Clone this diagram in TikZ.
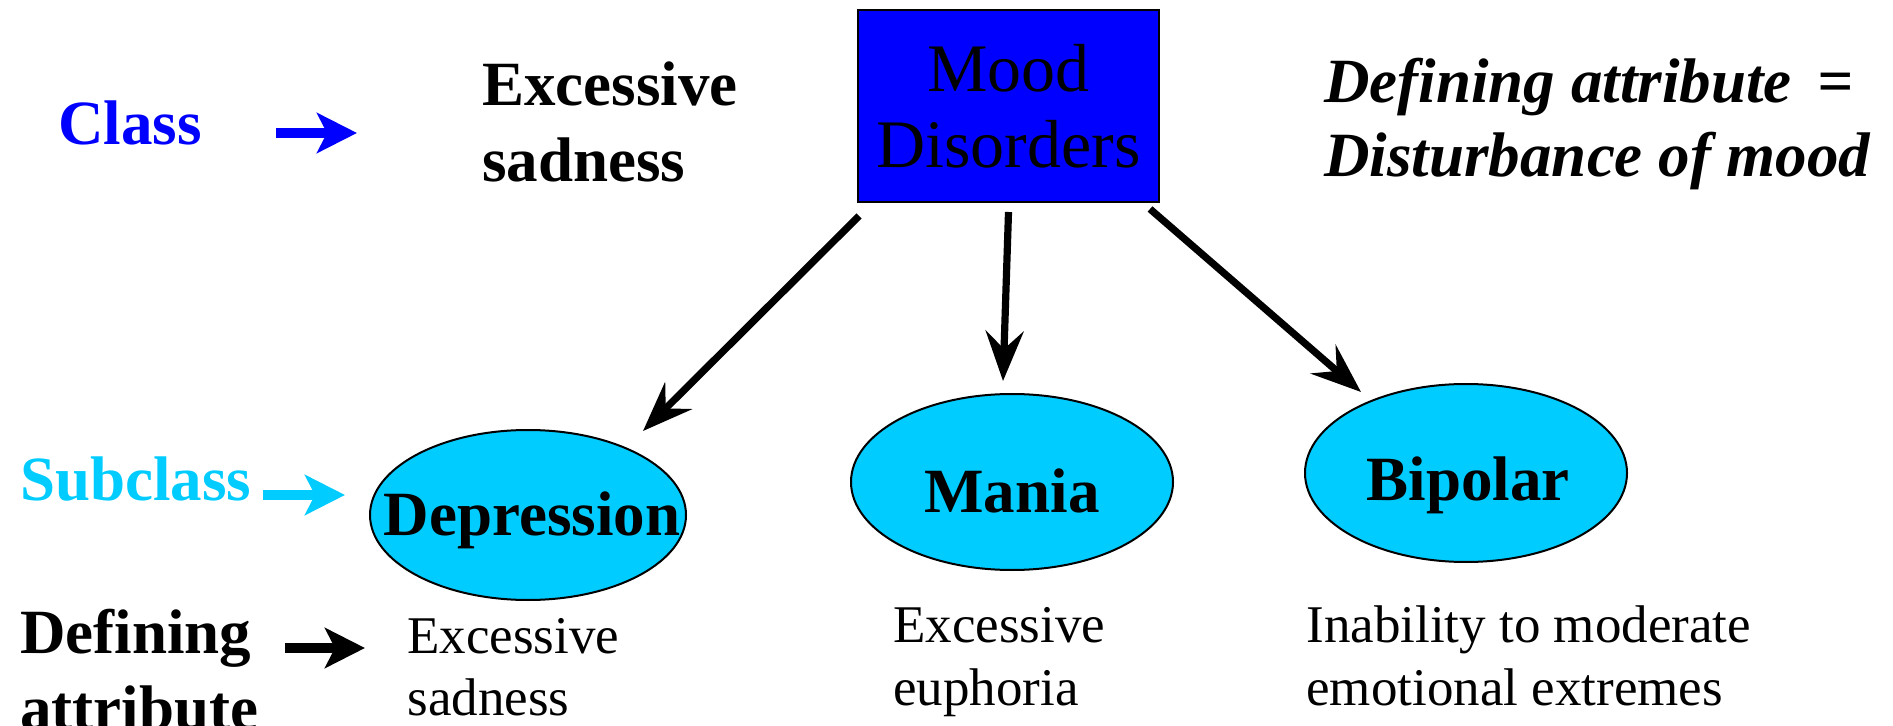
\documentclass[tikz,border=0pt]{standalone}
\usepackage{fontspec}
\setmainfont{Liberation Serif}
\usetikzlibrary{arrows.meta,shapes.geometric,calc}
\definecolor{boxblue}{RGB}{0,0,255}
\definecolor{subcyan}{RGB}{0,204,255}
\begin{document}
\begin{tikzpicture}[x=0.5pt,y=-0.5pt,
  conn/.style={line width=3.6pt,-{Stealth[length=25pt,width=19pt,inset=9pt]}},
  side/.style={line width=5pt,-{Stealth[length=20pt,width=20pt,inset=5pt]}},
  boldtxt/.style={inner sep=0pt,anchor=base west,font=\fontsize{31.5}{38}\selectfont\bfseries},
  boldc/.style={inner sep=0pt,anchor=base,font=\fontsize{31.5}{38}\selectfont\bfseries},
  itxt/.style={inner sep=0pt,anchor=base west,font=\fontsize{31.5}{38}\selectfont\bfseries\itshape},
  regtxt/.style={inner sep=0pt,anchor=base west,font=\fontsize{26.5}{31}\selectfont},
  ell/.style={ellipse,draw=black,line width=1pt,fill=subcyan,inner sep=0pt},
  moodbox/.style={rectangle,draw=black,line width=1pt,fill=boxblue,inner sep=0pt,
    minimum width=150.5pt,minimum height=96pt,align=center,
    font=\fontsize{34}{38}\selectfont}
]
\useasboundingbox (0,0) rectangle (1893,726);

% top row
\node[moodbox] (mood) at (1008.5,106) {Mood\\Disorders};
\node[boldtxt,text=boxblue] (cls) at (58,145) {Class};
\node[boldtxt] (ex1) at (482,106) {Excessive};
\node[boldtxt] (ex2) at (482,182) {sadness};
\node[itxt] (def1) at (1324,103) {Defining attribute \,=};
\node[itxt] (def2) at (1324,177) {Disturbance of mood};

% ellipses
\node[ell,minimum width=158pt,minimum height=85pt] (dep) at (528,515) {};
\node[ell,minimum width=161pt,minimum height=88pt] (man) at (1012,482) {};
\node[ell,minimum width=161pt,minimum height=89pt] (bip) at (1466,473) {};
\node[boldc] (deptxt) at (532,535) {Depression};
\node[boldc] (mantxt) at (1012,512) {Mania};
\node[boldc] (biptxt) at (1468,501) {Bipolar};

% left labels
\node[boldtxt,text=subcyan] (sub) at (20,501) {Subclass};
\node[boldtxt] (da1) at (20,653) {Defining};
\node[boldtxt] (da2) at (20,729) {attribute};

% bottom descriptions
\node[regtxt] (d1a) at (407,653) {Excessive};
\node[regtxt] (d1b) at (407,715) {sadness};
\node[regtxt] (d2a) at (893,642) {Excessive};
\node[regtxt] (d2b) at (893,705) {euphoria};
\node[regtxt] (d3a) at (1306,642) {Inability to moderate};
\node[regtxt] (d3b) at (1306,705) {emotional extremes};

% side arrows
\coordinate (ca) at (276,133);
\coordinate (cb) at (357,133);
\coordinate (sa) at (263,495);
\coordinate (sb) at (345,495);
\coordinate (da) at (285,648);
\coordinate (db) at (365,648);
\draw[side,draw=boxblue] (ca) -- (cb);
\draw[side,draw=subcyan] (sa) -- (sb);
\draw[side,draw=black] (da) -- (db);

% connectors
\draw[conn] ($(mood.south west)+(2,13)$) -- ($(dep.center)+(115,-84)$);
\draw[conn] ($(mood.south)+(0,9)$) -- ($(man.north)+(-9,-12)$);
\draw[conn] ($(mood.south east)+(-10,6)$) -- ($(bip.center)+(-105,-81)$);
\end{tikzpicture}
\end{document}
